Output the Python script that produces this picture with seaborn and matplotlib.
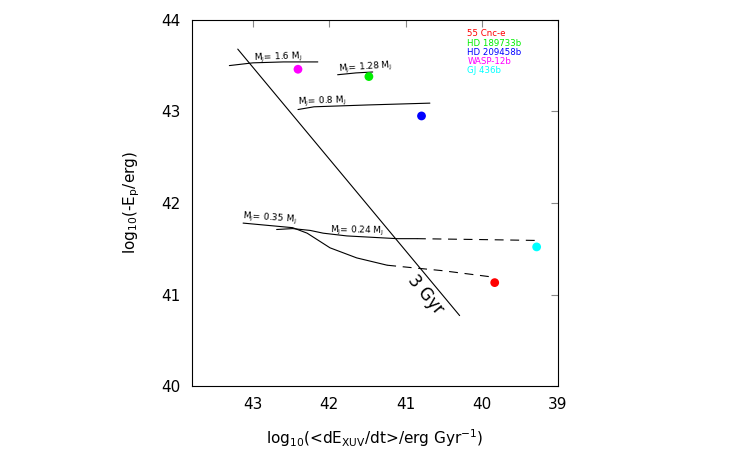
import matplotlib
matplotlib.use("Agg")
import matplotlib.pyplot as plt
import seaborn as sns
import pandas as pd

sns.set_style("white")
plt.rcParams['font.family'] = ['DejaVu Sans']
plt.rcParams['mathtext.default'] = 'regular'
plt.rcParams['text.color'] = 'black'
plt.rcParams['axes.labelcolor'] = 'black'
plt.rcParams['xtick.labelcolor'] = 'black'
plt.rcParams['ytick.labelcolor'] = 'black'

# planets: log10 <dE_XUV/dt>, log10(-E_p)
planets = ['55 Cnc-e', 'HD 189733b', 'HD 209458b', 'WASP-12b', 'GJ 436b']
planet_colors = ['#ff0000', '#00ee00', '#0000ff', '#ff00ff', '#00ffff']
planet_x = [39.83, 41.48, 40.79, 42.41, 39.28]
planet_y = [41.13, 43.38, 42.95, 43.46, 41.52]

# evolution tracks (solid part)
track_16_x = [43.31, 43.0, 42.6, 42.15]
track_16_y = [43.50, 43.53, 43.54, 43.54]
track_128_x = [41.89, 41.65, 41.43]
track_128_y = [43.40, 43.42, 43.43]
track_08_x = [42.41, 42.2, 41.5, 40.68]
track_08_y = [43.02, 43.05, 43.07, 43.09]
track_035_x = [43.13, 42.48, 42.29, 41.99, 41.64, 41.24]
track_035_y = [41.78, 41.73, 41.67, 41.51, 41.40, 41.32]
track_024_x = [42.69, 42.48, 42.25, 42.08, 41.77, 41.11, 40.85]
track_024_y = [41.71, 41.72, 41.70, 41.67, 41.64, 41.61, 41.61]

# extrapolated (dashed) parts
dash_035_x = [41.24, 40.51, 39.85]
dash_035_y = [41.32, 41.26, 41.19]
dash_024_x = [40.85, 40.0, 39.24]
dash_024_y = [41.61, 41.60, 41.59]

# 3 Gyr isochrone
gyr_x = [43.20, 40.29]
gyr_y = [43.68, 40.77]

fig = plt.figure(figsize=(7.5, 4.5), dpi=100)
ax = fig.add_axes([0.256, 0.142, 0.488, 0.814])

for tx, ty in [(track_16_x, track_16_y), (track_128_x, track_128_y),
               (track_08_x, track_08_y), (track_035_x, track_035_y),
               (track_024_x, track_024_y)]:
    sns.lineplot(x=tx, y=ty, ax=ax, color='black', linewidth=0.8, sort=False)
for tx, ty in [(dash_035_x, dash_035_y), (dash_024_x, dash_024_y)]:
    sns.lineplot(x=tx, y=ty, ax=ax, color='black', linewidth=0.8,
                 linestyle=(0, (8, 6)), sort=False)
sns.lineplot(x=gyr_x, y=gyr_y, ax=ax, color='black', linewidth=0.8, sort=False)

df = pd.DataFrame({'planet': planets, 'x': planet_x, 'y': planet_y})
sns.scatterplot(data=df, x='x', y='y', hue='planet', palette=planet_colors,
                s=40, edgecolor='none', legend=False, ax=ax, zorder=3)

lab = dict(fontsize=6.5, color='black')
ax.text(42.99, 43.56, r'M$_J$= 1.6 M$_J$', rotation=2, **lab)
ax.text(41.89, 43.44, r'M$_J$= 1.28 M$_J$', rotation=4, **lab)
ax.text(42.41, 43.08, r'M$_J$= 0.8 M$_J$', rotation=2, **lab)
ax.text(43.14, 41.79, r'M$_J$= 0.35 M$_J$', rotation=-4, **lab)
ax.text(41.99, 41.67, r'M$_J$= 0.24 M$_J$', rotation=-1, **lab)
ax.text(40.74, 41.0, '3 Gyr', rotation=-50, fontsize=12,
        ha='center', va='center')

for i, (name, col) in enumerate(zip(planets, planet_colors)):
    ax.text(0.752, 0.962 - i * 0.0254, name, color=col, fontsize=6.2,
            transform=ax.transAxes, va='center')

ax.set_xlim(43.8, 39)
ax.set_ylim(40, 44)
ax.set_xticks([43, 42, 41, 40, 39])
ax.set_yticks([40, 41, 42, 43, 44])
ax.tick_params(direction='in', length=5, color='#888888', labelsize=11,
               top=True, right=True, pad=8)
for sp in ax.spines.values():
    sp.set_color('black')
    sp.set_linewidth(0.8)
ax.set_xlabel(r'log$_{10}$(<dE$_{XUV}$/dt>/erg Gyr$^{-1}$)', fontsize=11,
              labelpad=11)
ax.set_ylabel(r'log$_{10}$(-E$_p$/erg)', fontsize=11, labelpad=14)

fig.savefig('out.png', dpi=100)
